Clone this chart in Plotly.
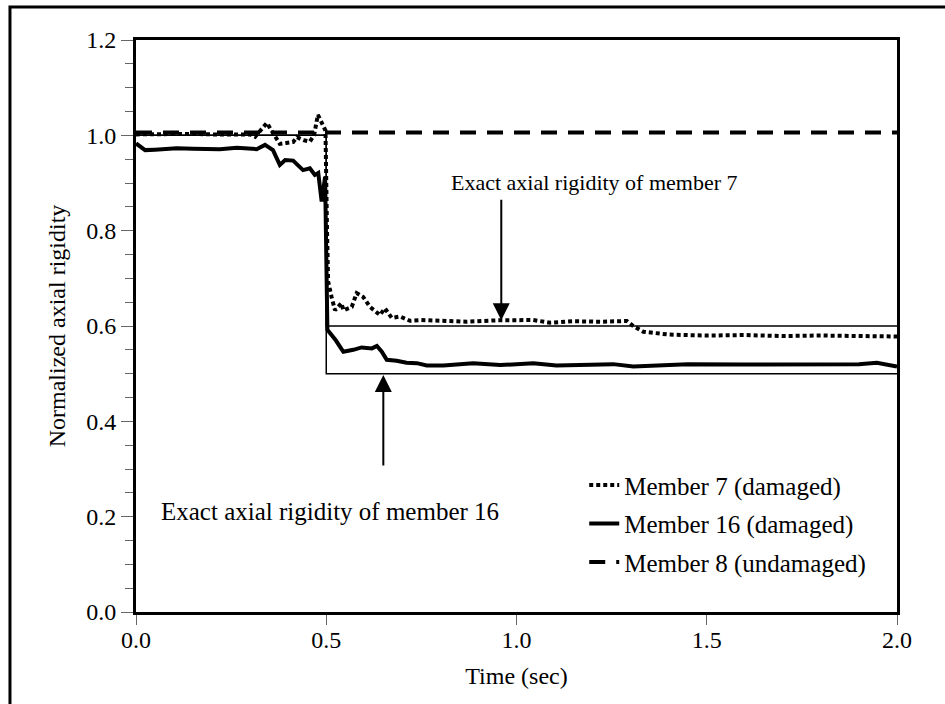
import plotly.graph_objects as go

# ---- data ----
t7 = [0, 0.05, 0.10, 0.15, 0.20, 0.25, 0.30, 0.313, 0.33, 0.344, 0.36, 0.378, 0.395, 0.413,
      0.423, 0.44, 0.457, 0.468, 0.478, 0.485, 0.492, 0.498, 0.502, 0.505, 0.514, 0.523, 0.54,
      0.545, 0.567, 0.58, 0.597, 0.615, 0.641, 0.654, 0.672, 0.694, 0.72, 0.746, 0.8, 0.869,
      0.95, 1.044, 1.088, 1.15, 1.22, 1.29, 1.307, 1.333, 1.4, 1.5, 1.6, 1.7, 1.8, 1.9, 2.0]
y7 = [1.002, 1.003, 1.002, 1.003, 1.002, 1.003, 1.002, 0.997, 1.012, 1.026, 1.005, 0.982, 0.984,
      0.986, 0.996, 0.99, 0.987, 1.0, 1.043, 1.03, 1.017, 1.01, 0.80, 0.693, 0.661, 0.633, 0.648,
      0.633, 0.64, 0.669, 0.661, 0.64, 0.623, 0.637, 0.617, 0.62, 0.611, 0.6125, 0.611, 0.609,
      0.612, 0.6125, 0.607, 0.610, 0.609, 0.6105, 0.60, 0.588, 0.582, 0.580, 0.581, 0.579, 0.580,
      0.579, 0.578]

t16 = [0, 0.012, 0.024, 0.05, 0.107, 0.15, 0.22, 0.265, 0.317, 0.339, 0.36, 0.378, 0.392, 0.413,
       0.439, 0.457, 0.47, 0.479, 0.488, 0.497, 0.503, 0.525, 0.545, 0.571, 0.593, 0.62, 0.633,
       0.646, 0.659, 0.685, 0.711, 0.738, 0.764, 0.808, 0.886, 0.957, 1.044, 1.105, 1.18, 1.254,
       1.307, 1.342, 1.45, 1.6, 1.75, 1.9, 1.947, 2.0]
y16 = [0.983, 0.975, 0.969, 0.970, 0.973, 0.972, 0.971, 0.974, 0.971, 0.980, 0.969, 0.938, 0.948,
       0.947, 0.927, 0.931, 0.917, 0.921, 0.861, 0.913, 0.592, 0.570, 0.546, 0.55, 0.555, 0.553,
       0.558, 0.546, 0.529, 0.527, 0.523, 0.522, 0.517, 0.517, 0.522, 0.518, 0.522, 0.517, 0.519,
       0.52, 0.515, 0.516, 0.52, 0.519, 0.52, 0.52, 0.523, 0.515]

t8 = [0, 2.0]
y8 = [1.006, 1.006]

t_exact7 = [0, 0.5, 0.5, 2.0]
y_exact7 = [1.0, 1.0, 0.6, 0.6]
t_exact16 = [0, 0.5, 0.5, 2.0]
y_exact16 = [1.0, 1.0, 0.5, 0.5]

names = ["Member 7 (damaged)", "Member 16 (damaged)", "Member 8 (undamaged)"]
label7 = "Exact axial rigidity of member 7"
label16 = "Exact axial rigidity of member 16"
arrow7 = dict(x=0.96, tip=0.612, tail=0.868)
arrow16 = dict(x=0.65, tip=0.497, tail=0.304)
xticks = [0.0, 0.5, 1.0, 1.5, 2.0]
yticks = [0.0, 0.2, 0.4, 0.6, 0.8, 1.0, 1.2]

FONT = "Liberation Serif"

fig = go.Figure()
fig.add_trace(go.Scatter(x=t_exact7, y=y_exact7, mode="lines", line=dict(color="black", width=1.5),
                         showlegend=False, hoverinfo="skip"))
fig.add_trace(go.Scatter(x=t_exact16, y=y_exact16, mode="lines", line=dict(color="black", width=1.5),
                         showlegend=False, hoverinfo="skip"))
fig.add_trace(go.Scatter(x=t8, y=y8, mode="lines", name=names[2], legendgroup="c", legendrank=3,
                         line=dict(color="black", width=4, dash="16px,11px")))
fig.add_trace(go.Scatter(x=t7, y=y7, mode="lines", name=names[0], legendgroup="a", legendrank=1,
                         line=dict(color="black", width=4, dash="4px,3px")))
fig.add_trace(go.Scatter(x=t16, y=y16, mode="lines", name=names[1], legendgroup="b", legendrank=2,
                         line=dict(color="black", width=4)))

fig.add_annotation(x=arrow7["x"], y=arrow7["tip"], ax=arrow7["x"], ay=arrow7["tail"],
                   xref="x", yref="y", axref="x", ayref="y", text="", showarrow=True,
                   arrowhead=2, arrowsize=1.7, arrowwidth=2, arrowcolor="black")
fig.add_annotation(x=arrow16["x"], y=arrow16["tip"], ax=arrow16["x"], ay=arrow16["tail"],
                   xref="x", yref="y", axref="x", ayref="y", text="", showarrow=True,
                   arrowhead=2, arrowsize=1.7, arrowwidth=2, arrowcolor="black")
fig.add_annotation(x=1.206, y=0.902, xref="x", yref="y", text=label7, showarrow=False,
                   font=dict(family=FONT, size=22, color="black"))
fig.add_annotation(x=0.51, y=0.21, xref="x", yref="y", text=label16, showarrow=False,
                   font=dict(family=FONT, size=25, color="black"))

# outer frame
fig.add_shape(type="rect", xref="paper", yref="paper", x0=-0.1656, x1=1.08, y0=-0.18, y1=1.0577,
              line=dict(color="black", width=3), layer="below")

tickfont = dict(family=FONT, size=24, color="black")
titlefont = dict(family=FONT, size=24, color="black")

fig.update_layout(
    width=945, height=704,
    margin=dict(l=136, r=48, t=40, b=92),
    paper_bgcolor="white", plot_bgcolor="white",
    font=dict(family=FONT, size=24, color="black"),
    showlegend=True,
    legend=dict(x=0.589, y=0.262, xanchor="left", yanchor="top", bgcolor="rgba(0,0,0,0)",
                font=dict(family=FONT, size=25, color="black"), tracegroupgap=3, itemwidth=30,
                traceorder="grouped"),
    xaxis=dict(range=[0, 2.0], tickvals=xticks, ticktext=[f"{v:.1f}" for v in xticks],
               showgrid=False, zeroline=False, showline=True, linewidth=3, linecolor="black",
               mirror=True, ticks="outside", ticklen=10, tickwidth=1, tickcolor="#666",
               tickfont=tickfont, ticklabelstandoff=-6,
               title=dict(text="Time (sec)", standoff=16, font=titlefont)),
    yaxis=dict(range=[0, 1.2], tickvals=yticks, ticktext=[f"{v:.1f}" for v in yticks],
               showgrid=False, zeroline=False, showline=True, linewidth=3, linecolor="black",
               mirror=True, ticks="outside", ticklen=12, tickwidth=1, tickcolor="#666",
               tickfont=tickfont,
               minor=dict(dtick=0.05, ticks="outside", ticklen=8, tickwidth=1, tickcolor="#666",
                          showgrid=False),
               title=dict(text="Normalized axial rigidity", standoff=14, font=titlefont)),
)

fig.write_html("out.html")
